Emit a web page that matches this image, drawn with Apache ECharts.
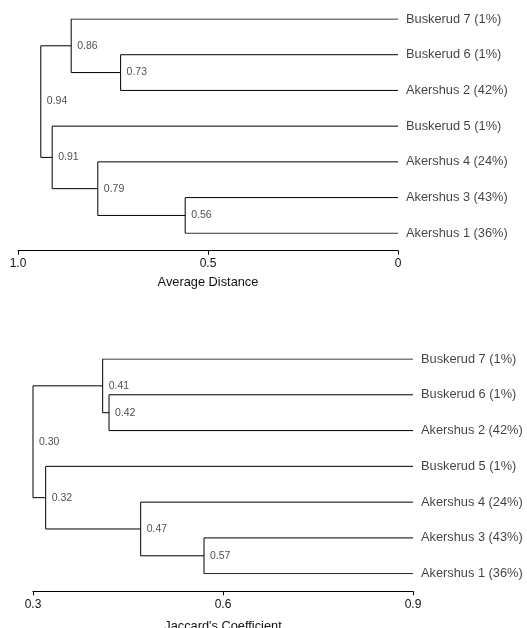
<!DOCTYPE html>
<html>
<head>
<meta charset="utf-8">
<script src="https://cdn.jsdelivr.net/npm/echarts@6/dist/echarts.min.js"></script>
<style>
  html, body { margin: 0; padding: 0; background: #fff; }
  #chart { width: 527px; height: 628px; }
</style>
</head>
<body>
<div id="chart"></div>
<script>
// leaf order, top to bottom (same for both trees)
const leafNames = [
  'Buskerud 7 (1%)',
  'Buskerud 6 (1%)',
  'Akershus 2 (42%)',
  'Buskerud 5 (1%)',
  'Akershus 4 (24%)',
  'Akershus 3 (43%)',
  'Akershus 1 (36%)'
];
// merges: [childA, childB, height]; 0-6 are leaves, 7+ are earlier merges in order
const distMerges = [
  [1, 2, 0.73],   // 7
  [0, 7, 0.86],   // 8
  [5, 6, 0.56],   // 9
  [4, 9, 0.79],   // 10
  [3, 10, 0.91],  // 11
  [8, 11, 0.94]   // 12
];
const jaccMerges = [
  [1, 2, 0.42],   // 7
  [0, 7, 0.41],   // 8
  [5, 6, 0.57],   // 9
  [4, 9, 0.47],   // 10
  [3, 10, 0.32],  // 11
  [8, 11, 0.30]   // 12
];
const distAxis = { min: 0, max: 1, interval: 0.5, leaf: 0 };
const jaccAxis = { min: 0.3, max: 0.9, interval: 0.3, leaf: 0.9 };

const FONT = 'Liberation Sans, Arial, sans-serif';
const INK = '#000';

function buildTree(merges, leafH, gi) {
  const ypos = leafNames.map((_, i) => i);
  const hgt = leafNames.map(() => leafH);
  const series = [];
  const nodes = [];
  merges.forEach(function (m) {
    const a = m[0], b = m[1], h = m[2];
    const ya = ypos[a], yb = ypos[b];
    series.push({
      type: 'line', xAxisIndex: gi, yAxisIndex: gi,
      data: [[hgt[a], ya], [h, ya], [h, yb], [hgt[b], yb]],
      symbol: 'none', silent: true,
      lineStyle: { color: INK, width: 1 }
    });
    nodes.push({ value: [h, (ya + yb) / 2], name: h.toFixed(2) });
    ypos.push((ya + yb) / 2);
    hgt.push(h);
  });
  series.push({
    type: 'scatter', xAxisIndex: gi, yAxisIndex: gi, symbolSize: 0, silent: true,
    data: nodes,
    label: { show: true, position: 'right', distance: 6, formatter: '{b}',
      fontSize: 10.5, color: '#222', fontFamily: FONT }
  });
  series.push({
    type: 'scatter', xAxisIndex: gi, yAxisIndex: gi, symbolSize: 0, silent: true,
    data: leafNames.map((n, i) => ({ value: [leafH, i], name: n })),
    label: { show: true, position: 'right', distance: 8, formatter: '{b}',
      fontSize: 12.8, color: '#111', fontFamily: FONT }
  });
  return series;
}

function xAxisFor(ax, gi, name, inverse, gap, offset, fmt) {
  return {
    type: 'value', gridIndex: gi, min: ax.min, max: ax.max, interval: ax.interval,
    inverse: inverse, position: 'bottom', offset: offset,
    name: name, nameLocation: 'middle', nameGap: gap,
    nameTextStyle: { fontSize: 12.8, color: '#111', fontFamily: FONT },
    axisLine: { show: true, onZero: false, lineStyle: { color: INK, width: 1 } },
    axisTick: { show: true, length: 4, lineStyle: { color: INK } },
    axisLabel: { margin: 7, fontSize: 12, color: '#111', fontFamily: FONT, formatter: fmt },
    splitLine: { show: false }
  };
}

const chart = echarts.init(document.getElementById('chart'));
chart.setOption({
  animation: false,
  backgroundColor: '#fff',
  grid: [
    { left: 18, right: 129, top: 19, height: 214.3, outerBoundsMode: 'none' },
    { left: 33, right: 114, top: 359, height: 214.7, outerBoundsMode: 'none' }
  ],
  xAxis: [
    xAxisFor(distAxis, 0, 'Average Distance', true, 25, 17.4,
      v => v === 0 ? '0' : v.toFixed(1)),
    xAxisFor(jaccAxis, 1, "Jaccard's Coefficient", false, 29, 17.6,
      v => v.toFixed(1))
  ],
  yAxis: [
    { type: 'value', gridIndex: 0, min: 0, max: 6, inverse: true, show: false },
    { type: 'value', gridIndex: 1, min: 0, max: 6, inverse: true, show: false }
  ],
  series: buildTree(distMerges, distAxis.leaf, 0).concat(buildTree(jaccMerges, jaccAxis.leaf, 1))
});
</script>
</body>
</html>
